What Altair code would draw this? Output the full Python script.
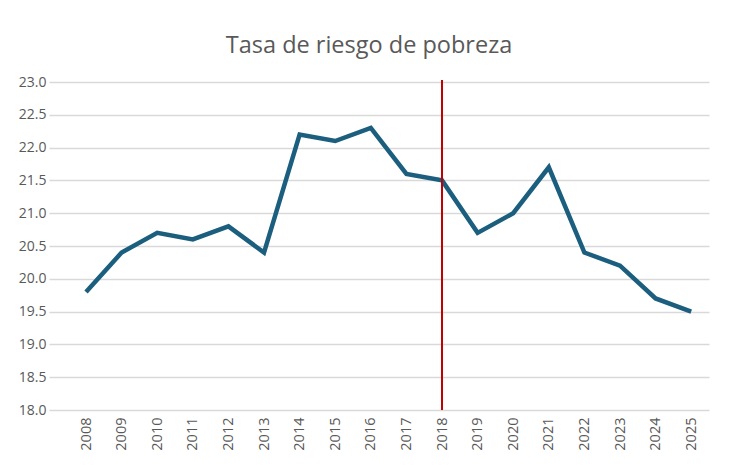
import altair as alt
import pandas as pd

years = list(range(2008, 2026))
tasa = [19.8, 20.4, 20.7, 20.6, 20.8, 20.4, 22.2, 22.1, 22.3,
        21.6, 21.5, 20.7, 21.0, 21.7, 20.4, 20.2, 19.7, 19.5]
marker_year = [2018]
y_ticks = [18.0, 18.5, 19.0, 19.5, 20.0, 20.5, 21.0, 21.5, 22.0, 22.5, 23.0]

LINE = "#1b5e7e"
RED = "#c00000"
INK = "#595959"
GRID = "#d9d9d9"
FONT = "Open Sans"

df = pd.DataFrame({"year": years, "tasa": tasa})
marker = pd.DataFrame({"year": marker_year, "tasa": [18.0], "hi": [23.03]})

x_axis = alt.Axis(values=years, format="d", labelAngle=270, grid=False,
                  domain=False, ticks=False, labelPadding=7, labelOverlap=False,
                  labelFontSize=14.5, labelColor=INK, labelFont=FONT)
y_axis = alt.Axis(values=y_ticks, format=".1f", grid=True, gridColor=GRID,
                  gridWidth=1.5, domain=False, ticks=False, labelPadding=3,
                  labelOverlap=False, labelFontSize=14, labelColor=INK,
                  labelFont=FONT)
x = alt.X("year:Q", title=None, axis=x_axis,
          scale=alt.Scale(domain=[2006.96, 2025.5], nice=False, zero=False))
y = alt.Y("tasa:Q", title=None, axis=y_axis,
          scale=alt.Scale(domain=[18, 23], nice=False, zero=False))

line = alt.Chart(df).mark_line(color=LINE, strokeWidth=4.5, strokeJoin="miter").encode(x=x, y=y)
rule = alt.Chart(marker).mark_rule(color=RED, strokeWidth=2).encode(x=x, y=y, y2="hi:Q")

chart = (line + rule).properties(
    width=660, height=328,
    autosize=alt.AutoSizeParams(type="none"),
    padding={"left": 41, "top": 74, "right": 17, "bottom": 54},
    title=alt.TitleParams("Tasa de riesgo de pobreza", fontSize=23.5, font=FONT,
                          fontWeight="normal", color=INK, anchor="middle",
                          offset=18, dx=-10),
).configure_view(stroke=None)

chart.save("out.html", embed_options={"renderer": "svg", "actions": False})
